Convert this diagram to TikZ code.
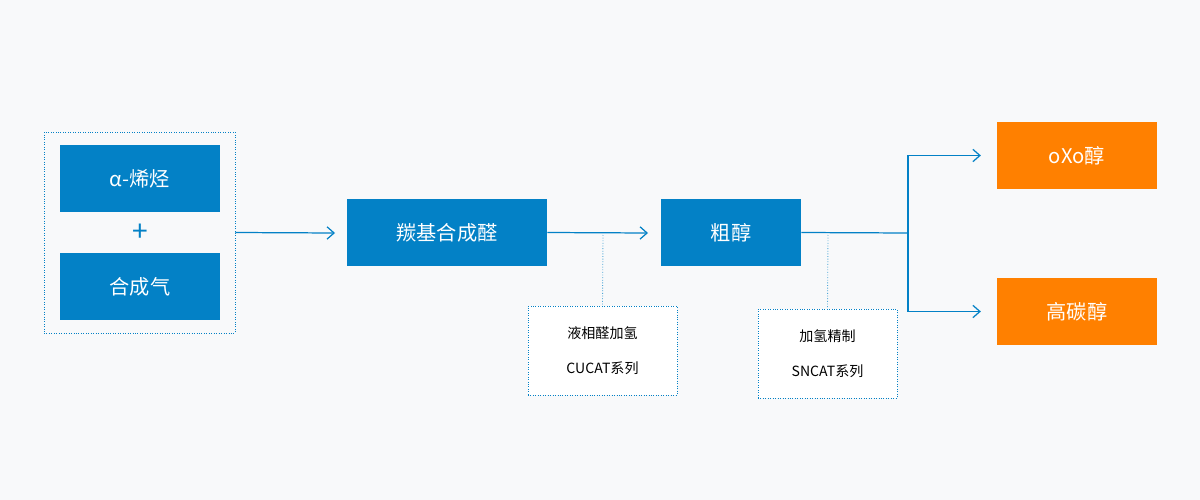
\documentclass[tikz,border=0pt]{standalone}
\usepackage{fontspec}
\setmainfont{Noto Sans CJK SC}
\usetikzlibrary{arrows.meta}
\definecolor{bgc}{HTML}{F8F9FA}
\definecolor{mblue}{HTML}{0381C6}
\definecolor{morange}{HTML}{FF8000}
\begin{document}
\begin{tikzpicture}[x=0.02cm,y=-0.02cm,
    stage/.style={fill=mblue,text=white,minimum width=3.2cm,minimum height=1.34cm,font=\fontsize{11.5}{13}\selectfont,inner sep=0pt},
    product/.style={stage,fill=morange},
    note/.style={draw=mblue,densely dotted,fill=white,align=center,font=\fontsize{8}{20}\selectfont,inner sep=0pt},
    flow/.style={mblue,line width=0.7pt,-{Straight Barb[length=4pt,width=7pt]}},
    tie/.style={mblue!70,densely dotted,line width=0.5pt}]
      \fill[bgc] (0,0) rectangle (1200,500);
      \node[draw=mblue,densely dotted,minimum width=3.82cm,minimum height=4.02cm] (feed) at (139.5,232.5) {};
      \node[stage] (olefin) at (140,178.5) {α-烯烃};
      \node[mblue,font=\fontsize{16}{16}\selectfont] (plus) at (140,233) {+};
      \node[stage] (syngas) at (140,286.5) {合成气};
      \node[stage,minimum width=4cm] (oxo) at (447,232.5) {羰基合成醛};
      \node[stage,minimum width=2.8cm] (crude) at (731,232.5) {粗醇};
      \node[product] (oxoalc) at (1077,155.5) {oXo醇};
      \node[product] (higher) at (1077,311.5) {高碳醇};
      \node[note,minimum width=2.98cm,minimum height=1.78cm] (cat1) at (602.5,350.5) {液相醛加氢\\CUCAT系列};
      \node[note,minimum width=2.78cm,minimum height=1.78cm] (cat2) at (827.5,353.5) {加氢精制\\SNCAT系列};
      \coordinate (split) at (908,233);
      % main line
      \draw[flow] (feed.east) -- (335,233);
      \draw[flow] (oxo.east) -- (648,233);
      \draw[mblue,line width=0.7pt] (crude.east) -- (split);
      \draw[flow] (split) |- ([xshift=-9]oxoalc.west);
      \draw[flow] (split) |- ([xshift=-9]higher.west);
      % catalysts
      \draw[tie] (603,235) -- (cat1.north);
      \draw[tie] (828,235) -- (cat2.north);
\end{tikzpicture}
\end{document}
